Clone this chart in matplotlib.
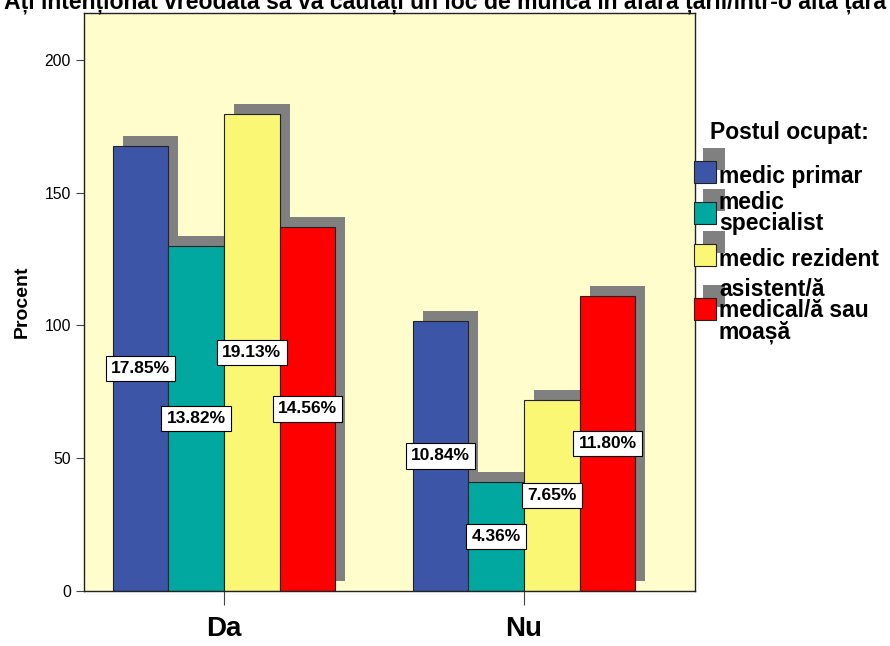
import matplotlib
matplotlib.use('Agg')
import matplotlib.pyplot as plt
from matplotlib.patches import Rectangle
import numpy as np

plt.rcParams['font.family'] = ['Liberation Sans', 'DejaVu Sans']

# date
categorii = ['Da', 'Nu']
posturi = ['medic primar', 'medic\nspecialist', 'medic rezident',
           'asistent/ă\nmedical/ă sau\nmoașă']
culori = ['#3D55A6', '#00A8A0', '#F9F774', '#FF0000']
inaltimi = [[167.6, 130.0, 179.7, 137.1],   # Da
            [101.7, 41.0, 72.0, 111.0]]     # Nu
etichete = [['17.85%', '13.82%', '19.13%', '14.56%'],
            ['10.84%', '4.36%', '7.65%', '11.80%']]
titlu = 'Ați intenționat vreodată să vă căutați un loc de muncă în afara țării/într-o altă țară'

W, H = 890, 646
fig = plt.figure(figsize=(W/100, H/100), dpi=100)
# axe: x 84..695, y 13..591 (pixeli)
ax = fig.add_axes([84/W, 1-591/H, (695-84)/W, (591-13)/H])
ax.set_facecolor('#FFFDCB')

bw = 0.1855   # latimea barei
dx = 0.033    # decalaj umbra
dy = 3.8
ax.set_xlim(-0.467, 1.57)
ax.set_ylim(0, 217.7)

for i, cat in enumerate(categorii):
    for j in range(4):
        x = i + (j - 1.5) * bw
        h = inaltimi[i][j]
        ax.bar(x + dx, h, width=bw, bottom=dy, color='#808080', zorder=1)
for i, cat in enumerate(categorii):
    for j in range(4):
        x = i + (j - 1.5) * bw
        h = inaltimi[i][j]
        ax.bar(x, h, width=bw, color=culori[j], edgecolor='#222222',
               linewidth=0.8, zorder=2)
        ax.text(x, h/2, etichete[i][j], ha='center', va='center',
                fontsize=12.5, fontweight='bold', zorder=3,
                bbox=dict(boxstyle='square,pad=0.3', fc='white',
                          ec='black', lw=0.8))

ax.set_xticks([0, 1])
ax.set_xticklabels(categorii, fontsize=20, fontweight='bold')
ax.set_yticks([0, 50, 100, 150, 200])
ax.tick_params(axis='y', labelsize=11.3, length=6, color='#444444')
ax.tick_params(axis='x', length=10, color='#444444', pad=8)
for s in ax.spines.values():
    s.set_color('#222222')
    s.set_linewidth(1.0)
ax.set_ylabel('Procent', fontsize=14, fontweight='bold', labelpad=10)

fig.text(0.5, 1-9/H, titlu, ha='center', va='baseline', fontsize=16.6,
         fontweight='bold')

# legenda desenata manual
fig.text(710/W, 1-133/H, 'Postul ocupat:', ha='left', va='center',
         fontsize=16.5, fontweight='bold')
leg_y = [172, 213, 255, 309]     # centrul patratelor (pixeli)
txt_y = [176, 213, 260, 311]
for j in range(4):
    yc = leg_y[j]
    fig.patches.append(Rectangle(((694+9)/W, 1-(yc-2)/H), 22/W, 22/H,
                                 transform=fig.transFigure, fc='#808080',
                                 ec='none', zorder=1))
    fig.patches.append(Rectangle((694/W, 1-(yc+11)/H), 22/W, 22/H,
                                 transform=fig.transFigure, fc=culori[j],
                                 ec='#222222', lw=0.8, zorder=2))
    fig.text(719/W, 1-txt_y[j]/H, posturi[j], ha='left', va='center',
             fontsize=16.5, fontweight='bold', linespacing=0.92)

fig.savefig('out.png', dpi=100)
